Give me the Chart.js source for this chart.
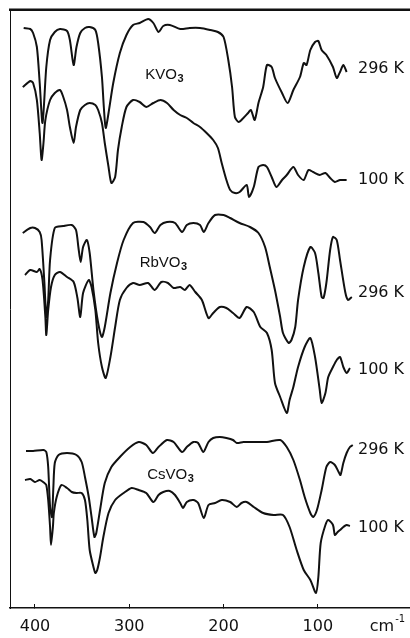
<!DOCTYPE html>
<html>
<head>
<meta charset="utf-8">
<script src="https://cdn.jsdelivr.net/npm/chart.js@4/dist/chart.umd.min.js"></script>
<style>
html,body{margin:0;padding:0;background:#fff;}
#wrap{width:410px;height:638px;}
</style>
</head>
<body>
<div id="wrap"><canvas id="c" width="410" height="638"></canvas></div>
<script>
// Wavenumber ticks (cm-1)
const tickValues = [400, 300, 200, 100];

// KVO3
const kvo3_296_x = [412,405,402,398,395,392,388,384,379,373.5,366,363,359,356,352,347,342,336,333,329,327,325,322,317,310,303,296,289,280,274.5,269,264,257,246,236,225,214,206,200,195,191,188,184,179,174,171,167,163,158,154,149,145.5,138,132,126,119,115,112,108,103,99.5,96,91,84,80,76.5,73,69.5];
const kvo3_296_y = [580,579,575,561,525,485,541,568,576,579,577,568,543,561,575,580,581,578,565,531,501,480,495,525,555,573,583,585,589,585,576,582,583,579,580,580,578,576,571,548,521,491,486,490,495,498,488,505,521,543,541,530,515,505,518,531,545,543,558,566,567,558,553,541,530,536,543,536];
const kvo3_100_x = [413,405,402,398,395,393,391,389,384,379,373.5,370,366,363,359,356.5,352,347,342,336,333,329,326,322,319,315,312,308,303,296,289,282,274.5,267,260,253,246,239,232,225,218,211,206,202,197,193,188,183,175.5,173,168,163,158,154,149,144,138,133,126,121,115,110,105,98,92,87,82,76.5,69.5];
const kvo3_100_y = [521,527,525,508,475,448,465,488,508,515,518,511,498,481,465,481,498,503,505,503,498,485,465,441,425,431,458,481,501,508,506,501,505,508,505,498,493,490,485,481,475,468,460,445,428,418,415,416,423,411,421,441,443,441,431,421,428,433,441,433,428,438,436,433,435,430,426,428,428];

// RbVO3
const rbvo3_296_x = [413,405,400,395,393,390,388,386,384,379,370,361,356.5,354,351.6,349,345,342,338,333,329,326,320,313,306,296,285,278,273,267,260,251.5,244,239,232,225,221,216,209,200,193,183,172,163,156,151,145.5,140,137,131,128,124,121,115,108,103,99.5,96,94,91,87,84,80,76.5,71,68,64];
const rbvo3_296_y = [375,380,380,376,368,325,291,308,348,380,382,383,378,361,346,361,368,355,318,285,271,281,315,345,368,385,386,381,375,383,386,385,376,383,385,383,376,385,393,393,390,385,381,375,361,341,318,291,275,265,268,281,308,341,361,355,335,311,310,325,358,371,368,348,316,308,311];
const rbvo3_100_x = [410.6,405,398,395,392,389,388,386,383,379,373.5,366,359,355,352,349,343,340,336,333,329,325,320,315,310,303,296,289,280,273,266,259,253,246,241,236,230,223,216,211,204,197,190,183,175.5,168,161,154,149,145.5,140,133,130,126,121,114,108,103,98,96,92,89,84,80,76.5,73,69.5,66];
const rbvo3_100_y = [333,338,336,339,328,291,273,298,321,333,336,331,326,310,291,315,328,321,298,265,241,230,251,281,308,320,325,323,325,318,326,325,320,321,318,323,316,308,290,295,301,300,295,290,301,296,281,275,258,225,211,195,208,221,241,261,270,251,218,205,215,231,241,248,251,241,235,240];

// CsVO3
const csvo3_296_x = [409.5,402,391,388,386,384,382,380.5,379,375,366,356,350.5,347,343,340,337,335,331,326,319,310,299,290,282,275,269,260,253,244,239,232,227,221.5,216,211,204,197,190,186,179,168,154,140,133,126,119,114,108,105,101,96,91,87,82,78,76,73,69.5,66,63];
const csvo3_296_y = [157,157,158,156,141,101,91,121,145,153,155,153,146,131,111,91,71,75,98,125,141,151,161,166,163,155,161,168,166,156,161,166,165,156,166,170,171,170,168,165,166,166,166,168,161,148,128,111,95,91,98,118,141,146,143,136,133,145,155,161,163];
const csvo3_100_x = [410.6,405,400,395,390,388,386,384,383,381,380,377,372,366,361,356,350.5,347,344.5,342,338,336,334,331,327.5,322,315,306,297.5,290,282,274.5,269,264,257,251.5,246,243,239,232,227,221,216,209,202,193,186,181,175.5,168,158,147,137,130,122.5,115,108,102,99.5,97,92,89,84,82,79,76.5,73,69.5,66];
const csvo3_100_y = [128,129,126,128,125,123,108,81,63,81,95,111,123,120,116,115,115,108,88,58,41,35,38,51,71,95,108,115,120,118,115,106,113,116,117,113,105,100,106,108,105,90,103,105,108,106,101,105,106,101,95,93,93,81,58,38,28,15,31,65,83,88,83,73,76,78,81,83,82];

const seriesList = [
  [kvo3_296_x, kvo3_296_y], [kvo3_100_x, kvo3_100_y],
  [rbvo3_296_x, rbvo3_296_y], [rbvo3_100_x, rbvo3_100_y],
  [csvo3_296_x, csvo3_296_y], [csvo3_100_x, csvo3_100_y]
];

// Text annotations anchored in data coordinates
const compoundLabels = [
  {base: 'KVO', sub: '3', x: 283, y: 533},
  {base: 'RbVO', sub: '3', x: 289, y: 345},
  {base: 'CsVO', sub: '3', x: 281, y: 133}
];
const tempLabels = [
  {text: '296 K', x: 57.5, y: 539},
  {text: '100 K', x: 57.5, y: 428},
  {text: '296 K', x: 57.5, y: 315},
  {text: '100 K', x: 57.5, y: 238},
  {text: '296 K', x: 57.5, y: 158},
  {text: '100 K', x: 57.5, y: 80}
];

const datasets = seriesList.map(([xs, ys]) => ({
  data: xs.map((x, i) => ({x: x, y: ys[i]})),
  borderColor: '#111',
  borderWidth: 2,
  pointRadius: 0,
  tension: 0.25,
  fill: false,
  xAxisID: 'x',
  yAxisID: 'y'
}));

const textPlugin = {
  id: 'textPlugin',
  afterDraw(chart) {
    const ctx = chart.ctx;
    const xs = chart.scales.x, ys = chart.scales.y;
    const area = chart.chartArea;
    ctx.save();
    // top frame line
    ctx.fillStyle = '#111';
    ctx.fillRect(area.left - 1, area.top - 1.5, chart.width - area.left + 1, 2.5);

    ctx.textBaseline = 'middle';
    ctx.textAlign = 'left';
    compoundLabels.forEach(l => {
      const px = xs.getPixelForValue(l.x), py = ys.getPixelForValue(l.y);
      ctx.font = '15px "Liberation Sans", Arial, sans-serif';
      ctx.fillText(l.base, px, py);
      const w = ctx.measureText(l.base).width;
      ctx.font = 'bold 11px "Liberation Sans", Arial, sans-serif';
      ctx.fillText(l.sub, px + w + 0.5, py + 4);
    });
    ctx.font = '16px "DejaVu Sans", sans-serif';
    tempLabels.forEach(l => {
      const px = xs.getPixelForValue(l.x), py = ys.getPixelForValue(l.y);
      ctx.fillText(l.text, px, py);
    });
    // axis unit
    const ux = xs.getPixelForValue(32);
    const uy = xs.top + 19;
    ctx.font = '16px "DejaVu Sans", sans-serif';
    ctx.textAlign = 'center';
    ctx.fillText('cm', ux, uy);
    const cw = ctx.measureText('cm').width;
    ctx.font = '10px "DejaVu Sans", sans-serif';
    ctx.textAlign = 'left';
    ctx.fillText('-1', ux + cw / 2 + 1, uy - 8);
    ctx.restore();
  }
};

new Chart(document.getElementById('c'), {
  type: 'line',
  data: {datasets: datasets},
  plugins: [textPlugin],
  options: {
    responsive: false,
    animation: false,
    layout: {padding: {top: 10, left: 0, right: 0, bottom: 0}},
    plugins: {legend: {display: false}, tooltip: {enabled: false}},
    scales: {
      x: {
        type: 'linear', position: 'bottom', reverse: true, min: 2.3, max: 426.5,
        afterBuildTicks: s => { s.ticks = tickValues.map(v => ({value: v})); },
        afterFit: s => { s.height = 30; },
        ticks: {color: '#111', font: {size: 16, family: '"DejaVu Sans", sans-serif'}, padding: 13, maxRotation: 0,
          callback: v => String(v)},
        grid: {drawOnChartArea: false, tickLength: -4, color: '#111', lineWidth: 1},
        border: {display: true, color: '#111', width: 1.5}
      },
      y: {
        type: 'linear', position: 'left', min: 0, max: 598,
        afterFit: s => { s.width = 10; },
        ticks: {display: false},
        grid: {display: false, drawTicks: false},
        border: {display: true, color: '#111', width: 1}
      }
    }
  }
});
</script>
</body>
</html>
